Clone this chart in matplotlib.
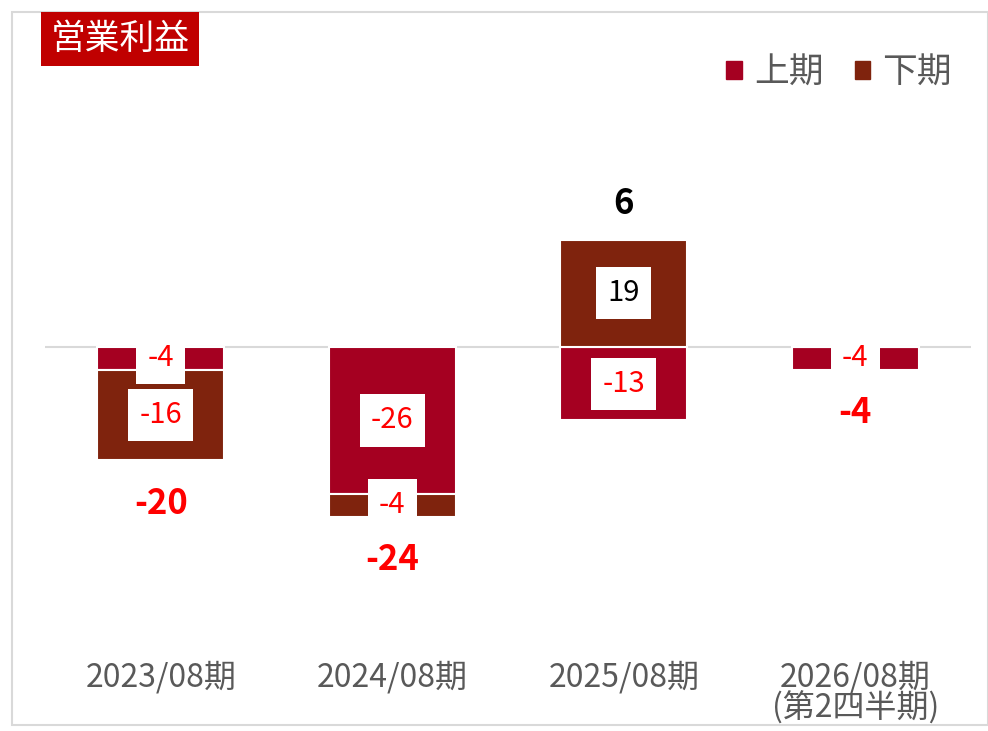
import matplotlib
matplotlib.use("Agg")
import matplotlib.pyplot as plt
from matplotlib.patches import Patch, Rectangle
import numpy as np

plt.rcParams['font.family'] = ['Noto Sans CJK JP', 'DejaVu Sans']

categories = ['2023/08期', '2024/08期', '2025/08期', '2026/08期']
sub_labels = ['', '', '', '(第2四半期)']
first_half = [-4, -26, -13, -4]        # 上期
second_half = [-16, -4, 19, np.nan]    # 下期
totals = [-20, -24, 6, -4]

c_first = '#A50021'
c_second = '#7F230D'
gray = '#595959'

W, H = 988, 731
fig = plt.figure(figsize=(W / 100, H / 100), dpi=100)

# axes placed in pixel terms
left, right, top, bottom = 45, 971, 100, 650
ax = fig.add_axes([left / W, 1 - bottom / H, (right - left) / W, (bottom - top) / H])
zero_px, ppu = 347, 5.65
ax.set_ylim(-(bottom - zero_px) / ppu, (zero_px - top) / ppu)
ax.set_xlim(-0.5, 3.5)

x = np.arange(len(categories))
fh = np.array(first_half, dtype=float)
sh = np.array(second_half, dtype=float)
sh_bottom = np.where((sh < 0) & (fh < 0), fh, 0.0)

ax.bar(x, fh, width=0.55, color=c_first, edgecolor='white', linewidth=1.5, zorder=2)
ax.bar(x, np.nan_to_num(sh), bottom=sh_bottom, width=0.55, color=c_second,
       edgecolor='white', linewidth=1.5, zorder=2)
ax.axhline(0, color='#D9D9D9', linewidth=1.5, zorder=1)

box = dict(boxstyle='square,pad=0.38', facecolor='white', edgecolor='none')
for i in range(len(x)):
    ax.text(x[i], fh[i] / 2, f'{first_half[i]}', ha='center', va='center',
            fontsize=21, color='red', bbox=box, zorder=3)
    if not np.isnan(sh[i]):
        ax.text(x[i], sh_bottom[i] + sh[i] / 2, f'{second_half[i]:.0f}', ha='center',
                va='center', fontsize=21, color='red' if sh[i] < 0 else 'black',
                bbox=box, zorder=3)
    neg = fh[i] * (fh[i] < 0) + np.nan_to_num(sh[i]) * (np.nan_to_num(sh[i]) < 0)
    pos = fh[i] * (fh[i] > 0) + np.nan_to_num(sh[i]) * (np.nan_to_num(sh[i]) > 0)
    if totals[i] < 0:
        ax.annotate(f'{totals[i]}', (x[i], neg), xytext=(0, -31), textcoords='offset points',
                    ha='center', va='center', fontsize=25, fontweight='bold', color='red')
    else:
        ax.annotate(f'{totals[i]}', (x[i], pos), xytext=(0, 26), textcoords='offset points',
                    ha='center', va='center', fontsize=25, fontweight='bold', color='black')

ticklabels = [c + ('\n' + s if s else '') for c, s in zip(categories, sub_labels)]
ax.set_xticks(x)
ax.set_xticklabels(ticklabels, fontsize=23, color=gray, linespacing=0.9)
ax.tick_params(axis='x', length=0, pad=8)
ax.set_yticks([])
for s in ax.spines.values():
    s.set_visible(False)

# outer border
fig.patches.append(Rectangle((12 / W, 1 - 725 / H), (W - 12) / W, (725 - 12) / H,
                             transform=fig.transFigure, fill=False,
                             edgecolor='#D9D9D9', linewidth=1.5))

fig.text(120 / W, 1 - 39 / H, '営業利益', ha='center', va='center', fontsize=25,
         color='white', bbox=dict(boxstyle='square,pad=0.28', facecolor='#C00000', edgecolor='none'))

handles = [Patch(color=c_first, label='上期'), Patch(color=c_second, label='下期')]
fig.legend(handles=handles, loc='center right', bbox_to_anchor=(952 / W, 1 - 73 / H), ncol=2,
           frameon=False, fontsize=25, labelcolor=gray, handlelength=0.45, handleheight=0.45,
           handletextpad=0.35, columnspacing=0.9, borderpad=0, borderaxespad=0)

fig.savefig('out.png', dpi=100)
